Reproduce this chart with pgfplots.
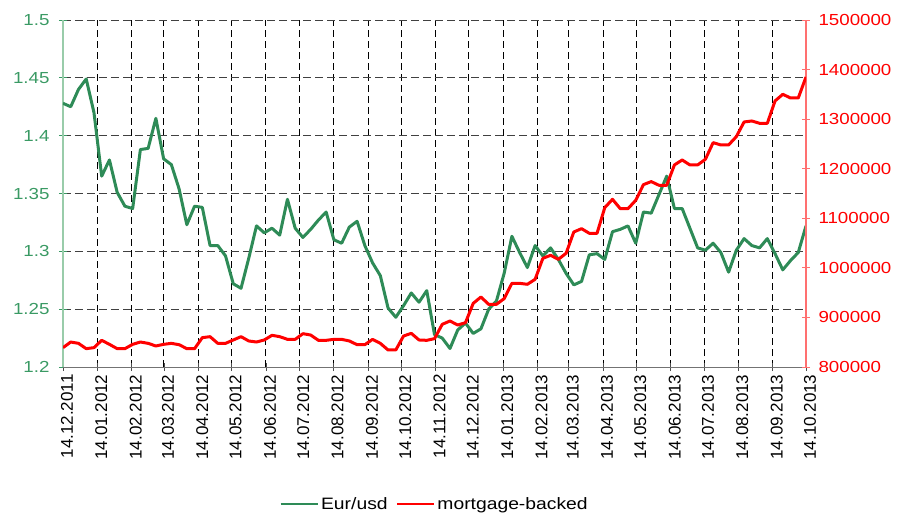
\documentclass[border=0pt]{standalone}
\usepackage{fontspec}
\setmainfont{Liberation Sans}
\newfontfamily\widefont[FakeStretch=1.17]{Liberation Sans}
\usepackage{pgfplots}
\pgfplotsset{compat=1.18}
\definecolor{eurgreen}{HTML}{2E8B57}
\definecolor{eurlabel}{HTML}{3A9A64}
\definecolor{euraxis}{HTML}{99CCAA}
\definecolor{mbsred}{HTML}{FF0000}
\definecolor{mbsaxis}{HTML}{FF7070}

% weekly observations, x = week index (0..96 spans 14.12.2011 .. 14.10.2013)
\pgfplotstableread{
i eur
0 1.428
1 1.425
2 1.440
3 1.449
4 1.420
5 1.365
6 1.379
7 1.351
8 1.339
9 1.337
10 1.388
11 1.389
12 1.415
13 1.380
14 1.375
15 1.354
16 1.323
17 1.339
18 1.338
19 1.305
20 1.305
21 1.296
22 1.272
23 1.268
24 1.294
25 1.322
26 1.316
27 1.320
28 1.314
29 1.345
30 1.320
31 1.312
32 1.319
33 1.327
34 1.334
35 1.310
36 1.307
37 1.321
38 1.326
39 1.305
40 1.290
41 1.279
42 1.251
43 1.243
44 1.253
45 1.264
46 1.256
47 1.266
48 1.228
49 1.225
50 1.216
51 1.232
52 1.238
53 1.229
54 1.233
55 1.250
56 1.257
57 1.281
58 1.313
59 1.299
60 1.286
61 1.305
62 1.296
63 1.303
64 1.293
65 1.281
66 1.271
67 1.274
68 1.297
69 1.298
70 1.293
71 1.317
72 1.319
73 1.322
74 1.307
75 1.334
76 1.333
77 1.349
78 1.365
79 1.337
80 1.337
81 1.320
82 1.303
83 1.301
84 1.307
85 1.299
86 1.282
87 1.301
88 1.311
89 1.305
90 1.303
91 1.311
92 1.298
93 1.284
94 1.292
95 1.299
96 1.322
}\eurdata

\pgfplotstableread{
i mbs
0 839000
1 850400
2 847700
3 837000
4 839000
5 853800
6 845700
7 837000
8 837000
9 845700
10 850400
11 847700
12 842400
13 845700
14 847700
15 845000
16 837000
17 837000
18 859200
19 861200
20 847700
21 847700
22 854500
23 861200
24 852500
25 850400
26 854500
27 863900
28 861200
29 855800
30 855800
31 867200
32 864500
33 853800
34 853800
35 855800
36 855800
37 852500
38 845000
39 845000
40 855800
41 847700
42 834300
43 834300
44 862500
45 867900
46 854500
47 853800
48 857200
49 886100
50 892800
51 884700
52 889400
53 928400
54 941200
55 926400
56 926400
57 937900
58 968800
59 968800
60 966800
61 976900
62 1019200
63 1025300
64 1017200
65 1029300
66 1072400
67 1079100
68 1069700
69 1069700
70 1121500
71 1138300
72 1119400
73 1119400
74 1136300
75 1167900
76 1174000
77 1166600
78 1166600
79 1207600
80 1217600
81 1207600
82 1207600
83 1219000
84 1252600
85 1247900
86 1247900
87 1264700
88 1294300
89 1296300
90 1291600
91 1291600
92 1336700
93 1350100
94 1342700
95 1342700
96 1385000
}\mbsdata

\begin{document}
\begin{tikzpicture}
\pgfplotsset{
  every axis/.append style={
    scale only axis, width=743pt, height=347pt,
    xmin=0, xmax=96,
    /pgf/number format/assume math mode=true,
    tick align=center, major tick length=8pt,
  },
}
\begin{axis}[
  axis y line*=left, axis x line*=bottom,
  ymin=1.2, ymax=1.5,
  ytick={1.2,1.25,...,1.5},
  yticklabel style={font=\fontsize{16}{19}\widefont, text=eurlabel, xshift=-6pt,
    /pgf/number format/.cd, fixed, precision=2},
  y axis line style={draw=euraxis, line width=1.6pt},
  x axis line style={draw=black!55, line width=1pt},
  ytick style={draw=eurlabel, line width=0.8pt},
  xtick style={draw=black!70, line width=0.8pt},
  xtick={0,4.442,8.884,13.039,17.480,21.779,26.221,30.519,34.961,39.403,43.701,48.143,52.442,56.884,61.325,65.337,69.779,74.078,78.519,82.818,87.260,91.701,96},
  xticklabels={14.12.2011,14.01.2012,14.02.2012,14.03.2012,14.04.2012,14.05.2012,14.06.2012,14.07.2012,14.08.2012,14.09.2012,14.10.2012,14.11.2012,14.12.2012,14.01.2013,14.02.2013,14.03.2013,14.04.2013,14.05.2013,14.06.2013,14.07.2013,14.08.2013,14.09.2013,14.10.2013},
  xticklabel style={font=\fontsize{17}{20}\selectfont, rotate=90, anchor=east, yshift=-4pt},
  grid=major,
  major x grid style={black, line width=0.9pt, dash pattern=on 7pt off 4pt},
  major y grid style={black!75, line width=0.9pt, dash pattern=on 8pt off 4pt},
  legend style={at={(0.5,-0.395)}, anchor=center, draw=none, fill=none,
    font=\fontsize{16.5}{19}\widefont, legend columns=2,
    /tikz/every even column/.append style={column sep=6pt}},
  legend image code/.code={\draw[#1, line width=2.8pt] (0pt,0pt) -- (37pt,0pt);},
]
\addplot[eurgreen, line width=3pt, line join=round] table[x=i, y=eur] {\eurdata};
\addlegendentry{Eur/usd}
\addlegendimage{mbsred}
\addlegendentry{mortgage-backed}
\end{axis}
\begin{axis}[
  axis y line*=right, axis x line=none,
  ymin=800000, ymax=1500000,
  ytick={800000,900000,...,1500000},
  scaled y ticks=false,
  yticklabel style={font=\fontsize{16}{19}\widefont, text=mbsred, xshift=5pt,
    /pgf/number format/.cd, fixed, 1000 sep={}},
  y axis line style={draw=mbsaxis, line width=1.2pt},
  ytick style={draw=mbsaxis, line width=0.8pt},
]
\addplot[mbsred, line width=3pt, line join=round] table[x=i, y=mbs] {\mbsdata};
\end{axis}
\pgfresetboundingbox
\path (-63pt,-149pt) rectangle (839pt,367pt);
\end{tikzpicture}
\end{document}
